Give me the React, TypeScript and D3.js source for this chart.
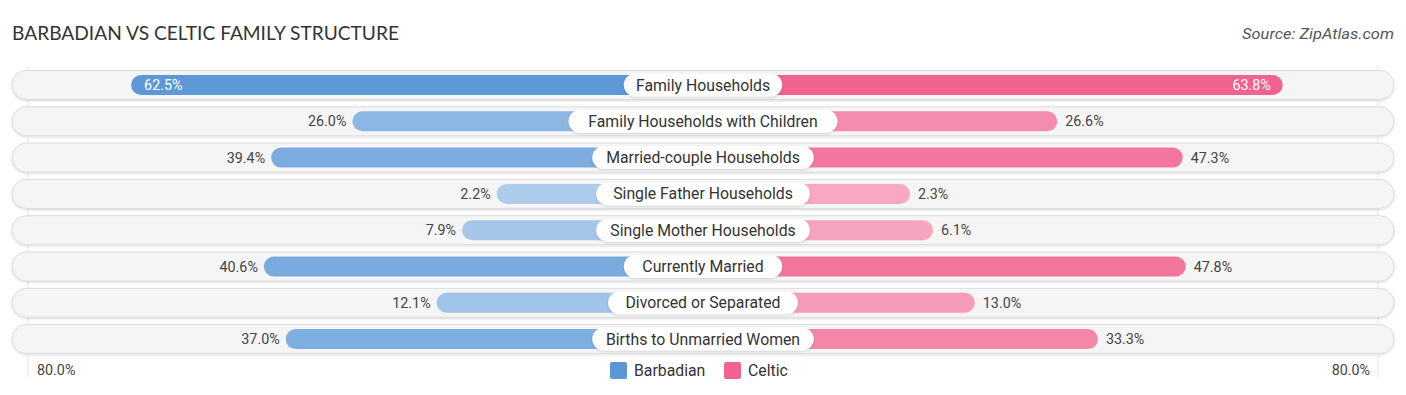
import { scaleLinear, interpolateRgb } from 'd3'

const categories = [
  'Family Households',
  'Family Households with Children',
  'Married-couple Households',
  'Single Father Households',
  'Single Mother Households',
  'Currently Married',
  'Divorced or Separated',
  'Births to Unmarried Women',
]
const barbadian = [62.5, 26.0, 39.4, 2.2, 7.9, 40.6, 12.1, 37.0]
const celtic = [63.8, 26.6, 47.3, 2.3, 6.1, 47.8, 13.0, 33.3]
const seriesNames = ['Barbadian', 'Celtic']
const axisMax = 80

export default function App() {
  const width = 1406
  const height = 395
  const cx = 703
  const rowTop = 85
  const rowStep = 36.3
  const font = 'Roboto, "Noto Sans", sans-serif'

  const len = scaleLinear().domain([0, axisMax]).range([193, 678])
  const blue = interpolateRgb('#b0cdec', '#5b97d7')
  const pink = interpolateRgb('#f8abc4', '#f0638f')
  const shade = (v: number) => Math.min(1, v / 64)

  return (
    <svg width={width} height={height} style={{ display: 'block', position: 'absolute', left: 0, top: 0 }} fontFamily={font}>
      <defs>
        <filter id="sh" x="-10%" y="-30%" width="120%" height="170%">
          <feDropShadow dx="0" dy="1" stdDeviation="1.2" floodColor="#000" floodOpacity="0.16" />
        </filter>
      </defs>
      <rect width={width} height={height} fill="#fff" />
      <text x="12" y="40" fontSize="18.5" fill="#333" fontFamily="Lato, Roboto, sans-serif" textLength="387" lengthAdjust="spacingAndGlyphs">BARBADIAN VS CELTIC FAMILY STRUCTURE</text>
      <text x="1394" y="39" fontSize="15" fill="#555" fontStyle="italic" textAnchor="end" textLength="152" lengthAdjust="spacingAndGlyphs">Source: ZipAtlas.com</text>

      {[-1, 1].map((s) => (
        <line key={s} x1={cx + s * (len(axisMax) - 3)} x2={cx + s * (len(axisMax) - 3)} y1="66" y2="378" stroke="#e6e6e6" strokeWidth="1" />
      ))}

      {categories.map((cat, i) => {
        const y = rowTop + i * rowStep
        const b = barbadian[i]
        const c = celtic[i]
        const bl = len(b)
        const cl = len(c)
        const bInside = b > 55
        const cInside = c > 55
        const labelW = cat.length * 7.9 + 24
        return (
          <g key={cat}>
            <rect x="12" y={y - 14.5} width={1382} height="29" rx="14.5" fill="#f5f5f5" stroke="#dddddd" strokeWidth="1" filter="url(#sh)" />
            <rect x={cx - bl} y={y - 10} width={bl} height="20" rx="10" fill={blue(shade(b))} />
            <rect x={cx} y={y - 10} width={cl} height="20" rx="10" fill={pink(shade(c))} />
            <rect x={cx - labelW / 2} y={y - 11.5} width={labelW} height="23" rx="11.5" fill="#fff" filter="url(#sh)" />
            <text x={cx} y={y + 5.5} fontSize="15.8" fill="#333" textAnchor="middle">{cat}</text>
            <text x={bInside ? cx - bl + 13 : cx - bl - 6} y={y + 5} fontSize="14.3" fill={bInside ? '#fff' : '#444'} textAnchor={bInside ? 'start' : 'end'}>
              {b.toFixed(1)}%
            </text>
            <text x={cInside ? cx + cl - 12 : cx + cl + 8} y={y + 5} fontSize="14.3" fill={cInside ? '#fff' : '#444'} textAnchor={cInside ? 'end' : 'start'}>
              {c.toFixed(1)}%
            </text>
          </g>
        )
      })}

      <text x="37" y="375" fontSize="14.3" fill="#444">{axisMax.toFixed(1)}%</text>
      <text x="1370" y="375" fontSize="14.3" fill="#444" textAnchor="end">{axisMax.toFixed(1)}%</text>

      {seriesNames.map((name, i) => {
        const x = i === 0 ? 610 : 724
        return (
          <g key={name}>
            <rect x={x} y="362" width="17" height="17" rx="2" fill={i === 0 ? '#5b97d7' : '#f0638f'} />
            <text x={x + 24} y="376" fontSize="15.8" fill="#333">{name}</text>
          </g>
        )
      })}
    </svg>
  )
}
